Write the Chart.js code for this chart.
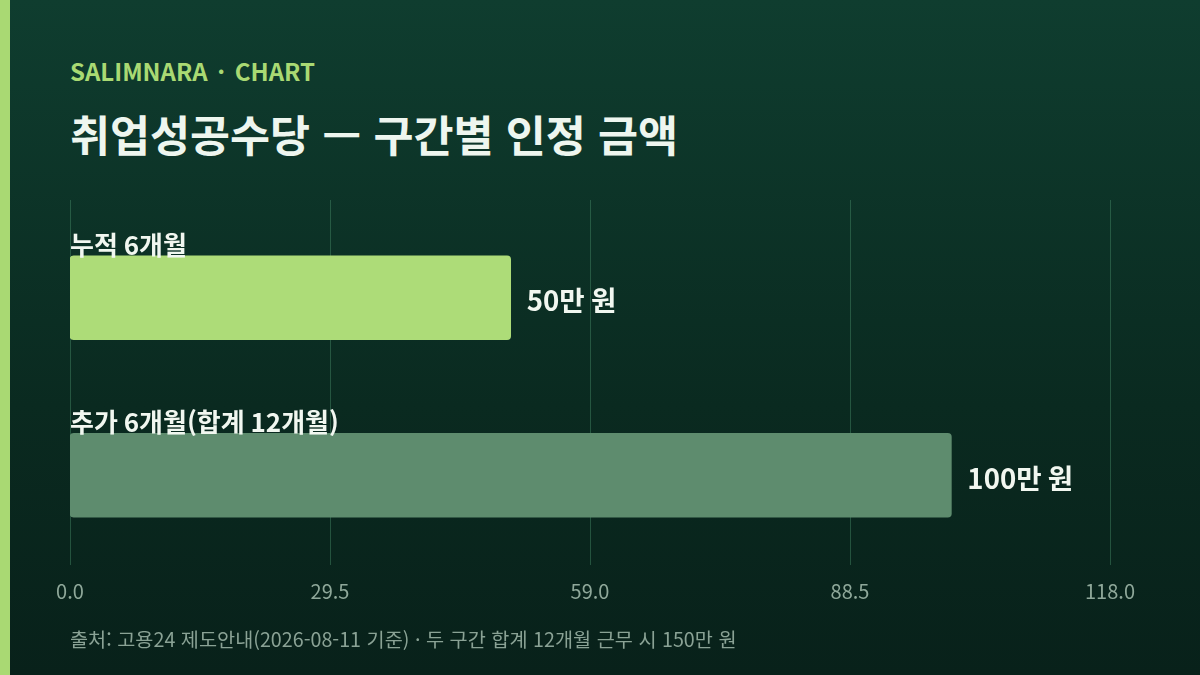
<!DOCTYPE html>
<html lang="ko">
<head>
<meta charset="utf-8">
<script src="https://cdn.jsdelivr.net/npm/chart.js@4"></script>
<style>
  html, body { margin: 0; padding: 0; }
  body {
    width: 1200px; height: 675px; overflow: hidden; position: relative;
    background: linear-gradient(180deg, #0f3d2f 0%, #0a2a20 60%, #08211a 100%);
    font-family: "Noto Sans CJK KR", "Noto Sans", sans-serif;
  }
  .accent { position: absolute; left: 0; top: 0; width: 10px; height: 675px; background: #a9d973; }
  .kicker { position: absolute; left: 70px; top: 55px; font-size: 24px; font-weight: 700; color: #a9d973; line-height: 32px; word-spacing: 3px; }
  .title { position: absolute; left: 70px; top: 105px; font-size: 43.5px; font-weight: 700; color: #eef6ef; line-height: 58px; }
  .note { position: absolute; left: 70px; top: 625px; font-size: 19.7px; color: #8aa295; line-height: 28px; }
  #chart { position: absolute; left: 0; top: 0; }
</style>
</head>
<body>
<div class="accent"></div>
<div class="kicker">SALIMNARA · CHART</div>
<div class="title">취업성공수당 — 구간별 인정 금액</div>
<canvas id="chart" width="1200" height="675"></canvas>
<div class="note">출처: 고용24 제도안내(2026-08-11 기준) · 두 구간 합계 12개월 근무 시 150만 원</div>
<script>
const categories = ['누적 6개월', '추가 6개월(합계 12개월)'];
const amounts = [50, 100];
const valueLabels = ['50만 원', '100만 원'];
const barColors = ['#addc78', '#5e8c6e'];
const tickStep = 29.5;
const axisMax = 118;

// grid lines drawn from the x scale, reaching a bit above the bars
const gridPlugin = {
    id: 'gridLines',
    beforeDatasetsDraw(chart) {
        const ctx = chart.ctx;
        const x = chart.scales.x;
        const area = chart.chartArea;
        ctx.save();
        ctx.strokeStyle = 'rgba(70, 140, 105, 0.45)';
        ctx.lineWidth = 1;
        x.ticks.forEach(t => {
            const px = Math.round(x.getPixelForValue(t.value)) + 0.5;
            ctx.beginPath();
            ctx.moveTo(px, area.top - 9);
            ctx.lineTo(px, area.bottom + 1);
            ctx.stroke();
        });
        ctx.restore();
    }
};

// category names above bars and amounts after them
const labelPlugin = {
    id: 'barLabels',
    afterDatasetsDraw(chart) {
        const ctx = chart.ctx;
        const meta = chart.getDatasetMeta(0);
        ctx.save();
        meta.data.forEach((bar, i) => {
            const top = bar.y - bar.height / 2;
            ctx.fillStyle = '#f1f7f0';
            ctx.font = 'bold 26px "Noto Sans CJK KR"';
            ctx.textAlign = 'left';
            ctx.textBaseline = 'alphabetic';
            ctx.fillText(categories[i], chart.chartArea.left, top - 1);
            ctx.font = 'bold 27.6px "Noto Sans CJK KR"';
            ctx.textBaseline = 'middle';
            ctx.fillText(valueLabels[i], bar.x + 16, bar.y + 3);
        });
        ctx.restore();
    }
};

new Chart(document.getElementById('chart'), {
    type: 'bar',
    data: {
        labels: categories,
        datasets: [{
            data: amounts,
            backgroundColor: barColors,
            borderRadius: 4,
            borderSkipped: false,
            barThickness: 84
        }]
    },
    options: {
        indexAxis: 'y',
        responsive: false,
        animation: false,
        layout: { padding: { left: 70, right: 90, top: 209, bottom: 57 } },
        plugins: { legend: { display: false }, tooltip: { enabled: false } },
        scales: {
            x: {
                min: 0,
                max: axisMax,
                border: { display: false },
                grid: { display: false, drawTicks: false },
                ticks: {
                    stepSize: tickStep,
                    padding: 15,
                    color: '#8fa89a',
                    font: { family: '"Noto Sans CJK KR"', size: 20 },
                    callback: v => Number(v).toFixed(1)
                }
            },
            y: { display: false }
        }
    },
    plugins: [gridPlugin, labelPlugin]
});
</script>
</body>
</html>
